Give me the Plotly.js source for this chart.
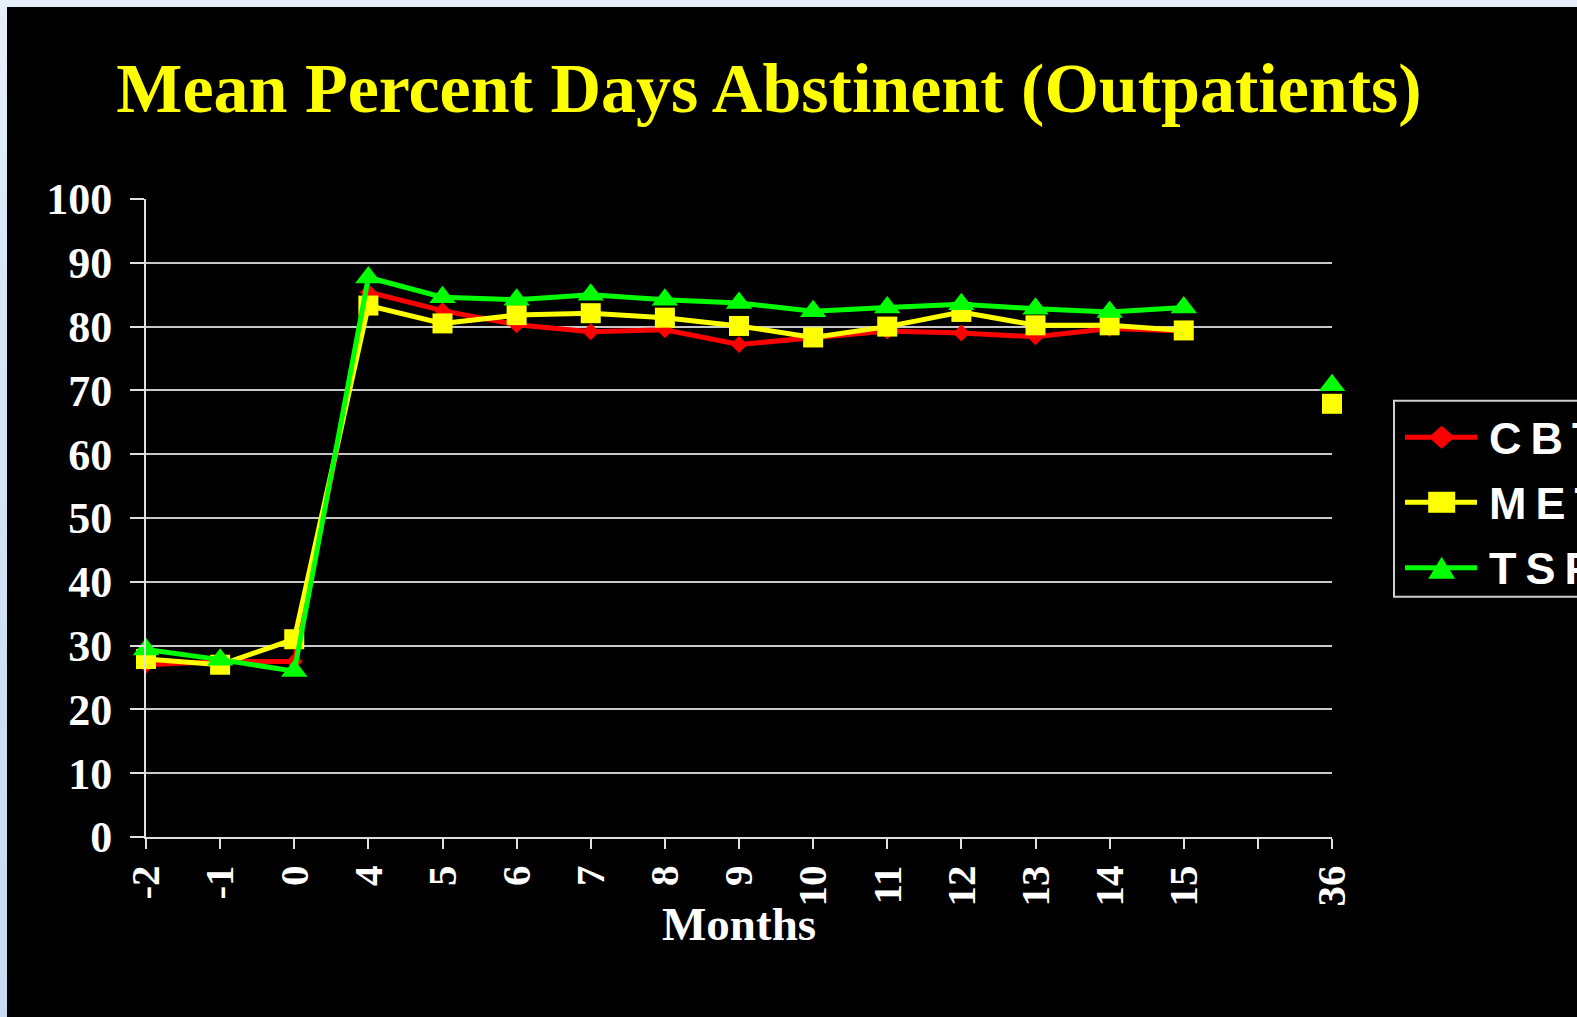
<!DOCTYPE html>
<html>
<head>
<meta charset="utf-8">
<script src="https://cdn.plot.ly/plotly-3.0.1.min.js"></script>
<style>
  html, body { margin: 0; padding: 0; width: 1577px; height: 1017px; overflow: hidden;
    background: linear-gradient(to bottom, #e6f0fa 0px, #d6e6f6 300px, #c6dbf1 1017px); }
  #chart { position: absolute; left: 7px; top: 7px; width: 1570px; height: 1010px; background: #000; }
</style>
</head>
<body>
<div id="chart"></div>
<script>
// ---- data ----
const monthLabels = ['-2', '-1', '0', '4', '5', '6', '7', '8', '9', '10', '11', '12', '13', '14', '15', '', '36'];
const cbt = [27.0, 27.5, 27.5, 85.4, 82.5, 80.3, 79.2, 79.5, 77.2, 78.3, 79.3, 79.0, 78.4, 79.7, 79.3, null, 68.0];
const met = [27.9, 27.0, 31.0, 83.3, 80.5, 81.8, 82.1, 81.4, 80.1, 78.3, 80.0, 82.3, 80.2, 80.2, 79.4, null, 67.9];
const tsf = [29.4, 27.8, 26.0, 87.7, 84.6, 84.2, 85.0, 84.2, 83.7, 82.4, 83.0, 83.5, 82.8, 82.3, 83.0, null, 70.8];
const seriesNames = ['CBT', 'MET', 'TSF'];
const yTicks = [0, 10, 20, 30, 40, 50, 60, 70, 80, 90, 100];

// ---- layout constants (pixels inside the 1570x1010 chart) ----
const W = 1570, H = 1010;
const L = 139, R = 1325, T = 192, B = 830.5;
const pw = R - L, ph = B - T;
const px = v => (v - L) / pw;
const py = v => (B - v) / ph;

const xIdx = monthLabels.map((_, i) => i);
const colors = ['#ff0000', '#ffff00', '#00ff00'];
const symbols = ['diamond', 'square', 'triangle-up'];
const sizes = [13, 20, 23];
const values = [cbt, met, tsf];

const traces = values.map((vals, k) => ({
  type: 'scatter', mode: 'lines+markers',
  x: xIdx, y: vals, name: seriesNames[k],
  connectgaps: false, cliponaxis: false,
  line: { color: colors[k], width: 5 },
  marker: { color: colors[k], symbol: symbols[k], size: sizes[k], line: { width: 0 } },
  showlegend: false
}));

// ---- manual legend ----
const legendY = [430.5, 495.5, 561];
const shapes = [{
  type: 'rect', xref: 'paper', yref: 'paper',
  x0: px(1387), x1: px(1600), y0: py(590), y1: py(394),
  line: { color: '#d0d0d0', width: 2 }, fillcolor: 'rgba(0,0,0,0)'
}];
const markerPaths = [
  'M-13,0 L0,11.5 L13,0 L0,-11.5 Z',
  'M-13.5,-10.5 L13.5,-10.5 L13.5,10.5 L-13.5,10.5 Z',
  'M-13.5,-11 L13.5,-11 L0,11 Z'
];
const serif = 'Liberation Serif, Times New Roman, serif';
const annotations = [];
seriesNames.forEach((nm, k) => {
  shapes.push({
    type: 'line', xref: 'paper', yref: 'paper',
    x0: px(1398), x1: px(1470), y0: py(legendY[k]), y1: py(legendY[k]),
    line: { color: colors[k], width: 5 }
  });
  shapes.push({
    type: 'path', xref: 'paper', yref: 'paper',
    xsizemode: 'pixel', ysizemode: 'pixel',
    xanchor: px(1434.7), yanchor: py(legendY[k]),
    path: markerPaths[k], fillcolor: colors[k], line: { width: 0 }
  });
  annotations.push({
    xref: 'paper', yref: 'paper', x: px(1480), y: py(legendY[k] + 1),
    xanchor: 'left', yanchor: 'middle', showarrow: false,
    text: nm.split('').join('\u2009'),
    font: { family: 'Liberation Sans, Arial, sans-serif', size: 45, color: '#ffffff', weight: 'bold' }
  });
});
// x-axis title
annotations.push({
  xref: 'paper', yref: 'paper', x: 0.5, y: py(918),
  xanchor: 'center', yanchor: 'middle', showarrow: false,
  text: '<b>Months</b>',
  font: { family: serif, size: 47, color: '#ffffff' }
});

const layout = {
  width: W, height: H,
  paper_bgcolor: '#000000', plot_bgcolor: '#000000',
  margin: { l: L, r: W - R, t: T, b: H - B, pad: 0 },
  showlegend: false,
  title: {
    text: '<b>Mean Percent Days Abstinent (Outpatients)</b>',
    font: { family: serif, size: 70, color: '#ffff00' },
    x: 762 / W, xanchor: 'center', xref: 'container',
    y: 1 - 80 / H, yanchor: 'middle', yref: 'container'
  },
  xaxis: {
    type: 'linear', range: [0, monthLabels.length - 1],
    tickvals: xIdx, ticktext: monthLabels,
    tickangle: -90,
    tickfont: { family: serif, size: 41, color: '#ffffff', weight: 'bold' },
    ticks: 'outside', ticklen: 10, tickwidth: 2, tickcolor: '#e0e0e0',
    ticklabelstandoff: 0,
    showline: true, linecolor: '#e0e0e0', linewidth: 2,
    showgrid: false, zeroline: false,
    fixedrange: true
  },
  yaxis: {
    range: [0, 100], tickvals: yTicks,
    tickfont: { family: serif, size: 44, color: '#ffffff', weight: 'bold' },
    ticks: 'outside', ticklen: 14, tickwidth: 2, tickcolor: '#e0e0e0',
    ticklabelstandoff: 9,
    showline: true, linecolor: '#e0e0e0', linewidth: 2,
    showgrid: true, gridcolor: '#c8c8c8', gridwidth: 2,
    zeroline: false, fixedrange: true
  },
  shapes: shapes,
  annotations: annotations
};

Plotly.newPlot('chart', traces, layout, { displayModeBar: false, staticPlot: true });
</script>
</body>
</html>
